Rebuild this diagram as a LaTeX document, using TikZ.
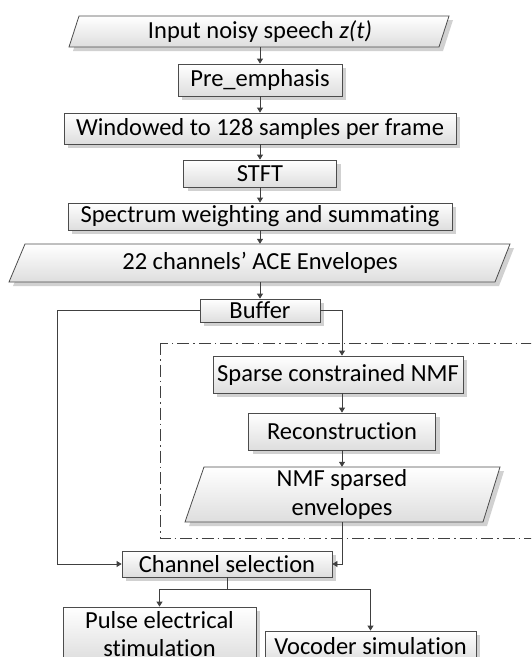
\documentclass[tikz,border=0pt]{standalone}
\usepackage{fontspec}
\setmainfont[Ligatures=NoCommon]{Carlito}
\usetikzlibrary{arrows.meta,calc,shadows}
\newcommand\paral[6]{%
  \fill[pshadow] (#1+4,#5+4) -- (#2+4,#5+4) -- (#4+4,#6+4) -- (#3+4,#6+4) -- cycle;
  \draw[pshape] (#1,#5) -- (#2,#5) -- (#4,#6) -- (#3,#6) -- cycle;}
\begin{document}
\begin{tikzpicture}[x=1pt,y=-1pt,
  base/.style={font=\fontsize{24.5}{28.5}\selectfont, inner sep=0pt, align=center},
  box/.style={base, rectangle, draw=black!70, line width=0.8pt, top color=white, bottom color=black!13,
    drop shadow={shadow xshift=4pt, shadow yshift=-4pt, fill=black!18, opacity=1}},
  ptext/.style={base, rectangle},
  pshape/.style={draw=black!70, line width=0.8pt, top color=white, bottom color=black!13},
  pshadow/.style={fill=black!18},
  conn/.style={draw=black!75, line width=0.8pt},
  arr/.style={conn, -{Triangle[length=5pt,width=6pt]}},
  grp/.style={draw=black!75, line width=0.9pt, dash pattern=on 12pt off 4pt on 1.5pt off 4pt}
]
\useasboundingbox (0,0) rectangle (531,657);
\clip (0,0) rectangle (531,657);

% dash-dot group
\draw[grp] (160,343) rectangle (560,538);

% parallelograms
\paral{79}{449}{69}{439}{16}{47}
\node[ptext, minimum width=360pt, minimum height=31pt] (in) at (260,31.5) {Input noisy speech \textit{z(t)}};
\paral{25}{510}{9}{495}{244}{282}
\node[ptext, minimum width=470pt, minimum height=38pt] (ace) at (260,263) {22 channels’ ACE Envelopes};
\paral{204}{500}{185}{483}{467}{522}
\node[ptext, minimum width=280pt, minimum height=55pt] (nmf) at (342,494.5) {NMF sparsed\\envelopes};

% boxes
\node[box, minimum width=164pt, minimum height=32pt] (pre) at (260,80) {Pre\_emphasis};
\node[box, minimum width=392pt, minimum height=31pt] (win) at (260,128.5) {Windowed to 128 samples per frame};
\node[box, minimum width=153pt, minimum height=27pt] (stft) at (260,173.5) {STFT};
\node[box, minimum width=384pt, minimum height=27pt] (spec) at (260,216.5) {Spectrum weighting and summating};
\node[box, minimum width=120pt, minimum height=23pt] (buf) at (260,310.5) {Buffer};
\node[box, minimum width=250pt, minimum height=37pt] (sparse) at (338,374.5) {Sparse constrained NMF};
\node[box, minimum width=187pt, minimum height=37pt] (recon) at (342,431.5) {Reconstruction};
\node[box, minimum width=210pt, minimum height=26pt] (chan) at (227,564) {Channel selection};
\node[box, minimum width=193pt, minimum height=54pt] (pulse) at (159.5,634) {Pulse electrical\\stimulation};
\node[box, minimum width=211pt, minimum height=31pt] (voc) at (370.5,646.5) {Vocoder simulation};

% connectors
\draw[arr] (in.south) -- (pre.north);
\draw[arr] (pre.south) -- (win.north);
\draw[arr] (win.south) -- (stft.north);
\draw[arr] (stft.south) -- (spec.north);
\draw[arr] (spec.south) -- (ace.north);
\draw[arr] (ace.south) -- (buf.north);
\coordinate (lbend) at (57,310.5);
\draw[arr] (buf.west) -- (lbend) |- (chan.west);
\draw[arr] (buf.east) -| (recon.north |- sparse.north);
\draw[arr] (recon.north |- sparse.south) -- (recon.north);
\draw[arr] (recon.south) -- (recon.south |- nmf.north);
\draw[arr] (recon.south |- nmf.south) |- (chan.east);
\coordinate (split) at ($(chan.south)+(0,12)$);
\draw[arr] (chan.south) -- (split) -| (pulse.north);
\draw[arr] (split) -| (voc.north);
\end{tikzpicture}
\end{document}
